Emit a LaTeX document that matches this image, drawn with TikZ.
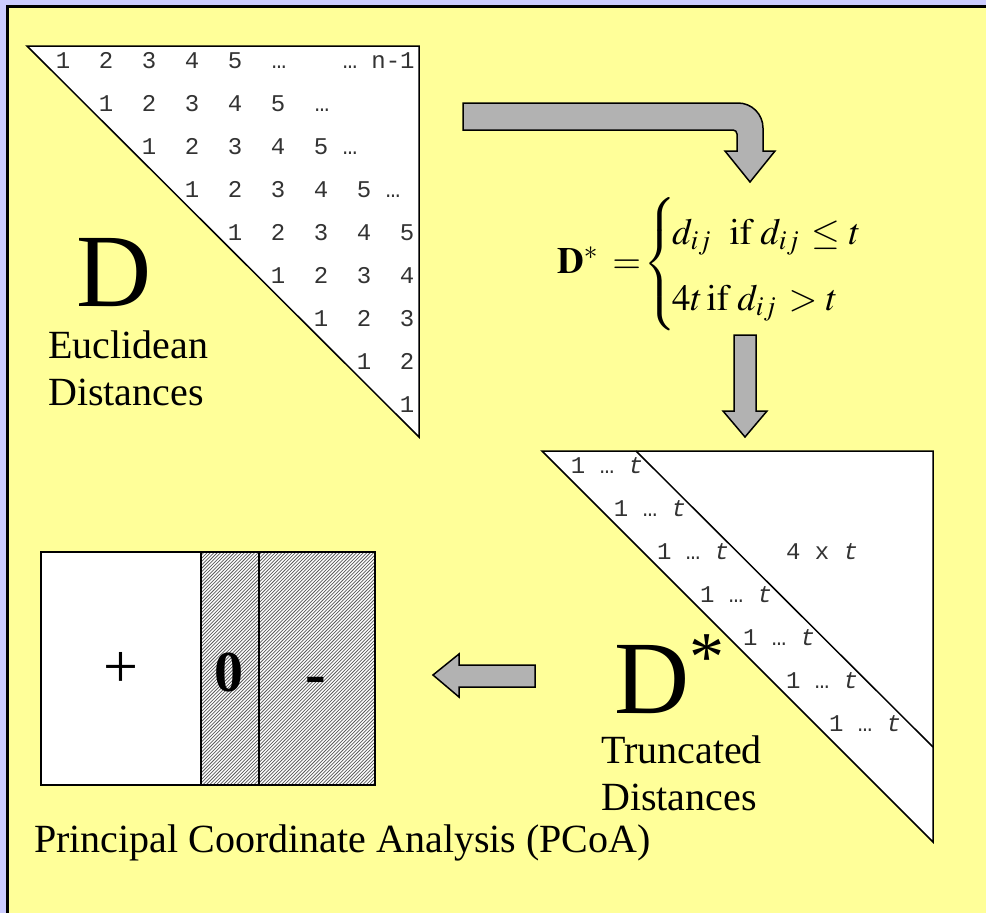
\documentclass[tikz,border=0pt]{standalone}
\usepackage{mathptmx}
\usepackage[no-math]{fontspec}
\setmainfont{Liberation Serif}
\newfontfamily\monofont{Liberation Mono}
\definecolor{bglav}{HTML}{CCCCFF}
\definecolor{bgyel}{HTML}{FFFF99}
\definecolor{arrowgray}{HTML}{B2B2B2}
\definecolor{numgray}{HTML}{333333}
\definecolor{hatchgray}{HTML}{5A5A5A}
\tikzset{
  num/.style={font=\monofont\fontsize{24}{24}\selectfont, text=numgray, inner sep=0pt, anchor=base},
  lbl/.style={font=\fontsize{40}{47.5}\selectfont, inner sep=0pt, anchor=base west},
  bigl/.style={font=\fontsize{104}{104}\selectfont, inner sep=0pt, anchor=base west},
  sign/.style={font=\fontsize{62}{62}\selectfont, inner sep=0pt, anchor=base},
  blockarrow/.style={fill=arrowgray, draw=black, line width=1.5pt, line join=miter},
  tri/.style={fill=white, draw=black, line width=1.5pt, line join=miter},
  hatch/.style={draw=hatchgray, line width=0.75pt},
  boxline/.style={draw=black, line width=2pt},
}
\begin{document}
\begin{tikzpicture}[x=1pt,y=-1pt]
\useasboundingbox (0,0) rectangle (986,913);
\clip (0,0) rectangle (986,913);
% background
\fill[bglav] (0,0) rectangle (986,913);
\draw[fill=bgyel, line width=2.5pt] (7.5,6.5) rectangle (1000,1000);

% ---- top-left triangle (D) ----
\draw[tri] (27,46) -- (419,46) -- (419,437) -- cycle;
\foreach \r in {0,...,8}{
  \pgfmathtruncatemacro{\kmax}{min(5,9-\r)}
  \foreach \k in {1,...,\kmax}{
    \node[num] (d-\r-\k) at ({63+43*(\r+\k-1)},{68+43*\r}) {\k};
  }
}
\node[num] (d-0-e1) at (279,68) {…};
\node[num] (d-0-e2) at (350,68) {…};
\node[num] (d-0-n) at (393,68) {n-1};
\node[num] (d-1-e) at (322,111) {…};
\node[num] (d-2-e) at (350,154) {…};
\node[num] (d-3-e) at (393,197) {…};

\node[bigl] (Dlab) at (76,306) {D};
\node[lbl] (eucl) at (48,358) {\begin{tabular}[t]{@{}l@{}}Euclidean\\Distances\end{tabular}};

% ---- bent arrow ----
\draw[blockarrow] (463,103) -- (738,103) arc[start angle=-90, end angle=0, radius=25]
  -- (763,151) -- (775,151) -- (750,182) -- (725,151) -- (737,151) -- (737,134)
  arc[start angle=0, end angle=-90, radius=4] -- (463,130) -- cycle;

% ---- formula ----
\node[anchor=west, inner sep=0pt] (formula) at (557,264)
  {\fontsize{37}{44.4}\selectfont\renewcommand{\arraystretch}{1.49}%
   $\mathbf{D}^{*}\mkern3mu=\mkern-3mu\left\{\mkern-2mu\begin{array}{@{}l@{}}
     d_{ij}\ \ \mathrm{if}\;d_{ij}\mkern2mu\le t\\
     4t\,\mathrm{if}\;d_{ij}\mkern2mu>t
   \end{array}\right.$};

% ---- down arrow ----
\draw[blockarrow] (734,335) -- (756,335) -- (756,411) -- (767,411) -- (745,437)
  -- (723,411) -- (734,411) -- cycle;

% ---- bottom-right triangle (D*) ----
\draw[tri] (542,451) -- (933,451) -- (933,842) -- cycle;
\draw[black, line width=1.5pt] (636,451) -- (933,747);
\foreach \i in {0,...,6}{
  \node[num] (r-\i) at ({607+43*\i},{473+43*\i}) {1 … \textit{t}};
}
\node[num] (fourt) at (822,559) {4 x \textit{t}};
\node[bigl] (Dstar) at (614,713) {D\raisebox{33pt}{\fontsize{70}{70}\selectfont *}};
\node[lbl] (trunc) at (601,763) {\begin{tabular}[t]{@{}l@{}}Truncated\\Distances\end{tabular}};

% ---- left arrow ----
\draw[blockarrow] (433,675) -- (459,654) -- (459,665) -- (535,665) -- (535,687)
  -- (459,687) -- (459,697) -- cycle;

% ---- PCoA box ----
\fill[white] (41,552) rectangle (375,785);
\begin{scope}
  \clip (201,552) rectangle (375,785);
  \foreach \j in {0,...,125}{
    \draw[hatch] ({-36+\j*3.4},789) -- ++(245,-245);
  }
\end{scope}
\draw[boxline] (41,552) rectangle (375,785);
\draw[boxline] (201,552) -- (201,785);
\draw[boxline] (259,552) -- (259,785);
\node[sign] (plus) at (121,687) {+};
\node[sign, font=\fontsize{58}{58}\selectfont\bfseries] (zero) at (229,691) {0};
\node[sign, font=\fontsize{62}{62}\selectfont\bfseries] (minus) at (316,694) {-};

\node[lbl] (pcoa) at (34,852) {Principal Coordinate Analysis (PCoA)};
\end{tikzpicture}
\end{document}
